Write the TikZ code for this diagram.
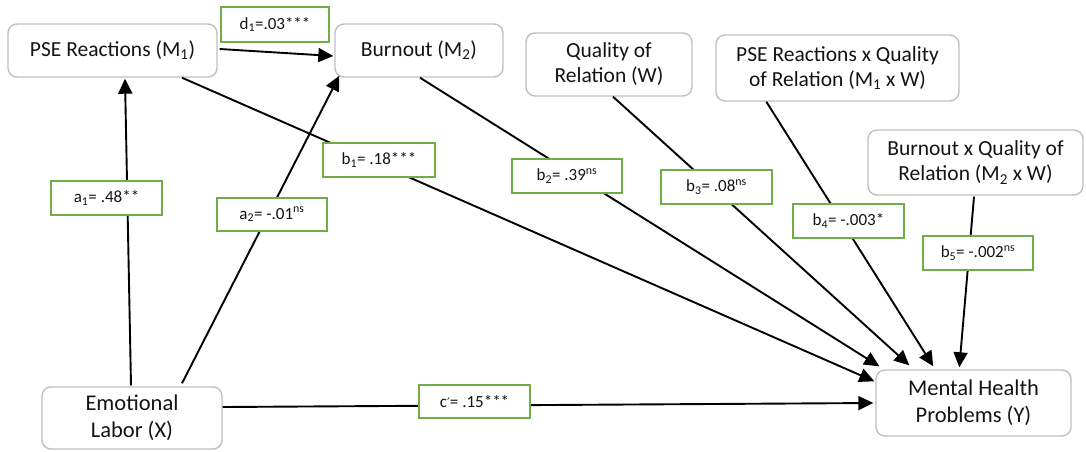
\documentclass[tikz,border=0pt]{standalone}
\usepackage{fontspec}
\setmainfont{Carlito}
\newfontfamily\primefont{DejaVu Sans}
\usetikzlibrary{arrows.meta,calc}
\definecolor{boxgray}{RGB}{191,191,191}
\definecolor{labgreen}{RGB}{112,173,71}
\definecolor{inkdark}{RGB}{20,20,20}
\begin{document}
\begin{tikzpicture}[x=1pt,y=-1pt,
  varbox/.style={draw=boxgray,line width=1.4pt,rounded corners=9pt,fill=white,
    align=center,inner sep=0pt,text=inkdark,
    font=\fontsize{21.5}{25}\selectfont},
  tallbox/.style={varbox,font=\fontsize{22.5}{27}\selectfont},
  coefbox/.style={draw=labgreen,line width=2pt,fill=white,inner sep=0pt,
    text=inkdark,font=\fontsize{17}{19}\selectfont},
  path/.style={line width=1.9pt,-{Triangle[length=15pt,width=14pt]}}]
\useasboundingbox (0,0) rectangle (1086,451);

% variables
\node[varbox,minimum width=209pt,minimum height=53pt] (M1) at (112.5,50.5) {PSE Reactions (M\textsubscript{1})};
\node[varbox,minimum width=168pt,minimum height=53pt] (M2) at (419,50.5) {Burnout (M\textsubscript{2})};
\node[varbox,minimum width=166pt,minimum height=63pt] (W) at (609,64.5) {Quality of\\Relation (W)};
\node[varbox,minimum width=243pt,minimum height=66pt] (M1W) at (837.5,68) {PSE Reactions x Quality\\of Relation (M\textsubscript{1} x W)};
\node[varbox,minimum width=215pt,minimum height=65pt] (M2W) at (975.5,162.5) {Burnout x Quality of\\Relation (M\textsubscript{2} x W)};
\node[tallbox,minimum width=180pt,minimum height=62pt] (X) at (132,418) {Emotional\\Labor (X)};
\node[tallbox,minimum width=195pt,minimum height=66pt] (Y) at (973.5,403) {Mental Health\\Problems (Y)};

% paths
\draw[path] ($(M1.east)+(2,-1.5)$) -- ($(M2.west)+(-1,5.5)$);
\draw[path] ($(X.north)+(-1,-1)$) -- ($(M1.south)+(12.5,1)$);
\draw[path] ($(X.north)+(50,-3)$) -- ($(M2.south west)+(5,-2)$);
\draw[path] ($(M1.south)+(69.5,0)$) -- ($(Y.north west)+(-1,12)$);
\draw[path] ($(M2.south)+(1,0)$) -- ($(Y.north west)+(4,-3)$);
\draw[path] ($(W.south)+(4,0)$) -- ($(Y.north west)+(34,-4)$);
\draw[path] ($(M1W.south west)+(51,0)$) -- ($(Y.north west)+(58,-3)$);
\draw[path] ($(M2W.south)+(-1.5,1)$) -- ($(Y.north west)+(84,-2)$);
\draw[path] ($(X.east)+(0,-11)$) -- ($(Y.west)+(-2,0)$);

% coefficients
\node[coefbox,minimum width=108pt,minimum height=35pt] (d1) at (275,24.5) {d\textsubscript{1}=.03***};
\node[coefbox,minimum width=111pt,minimum height=34pt] (a1) at (106.5,198) {a\textsubscript{1}= .48**};
\node[coefbox,minimum width=110pt,minimum height=33pt] (a2) at (272,214.5) {a\textsubscript{2}= -.01\textsuperscript{ns}};
\node[coefbox,minimum width=112pt,minimum height=34pt] (b1) at (379,160) {b\textsubscript{1}= .18***};
\node[coefbox,minimum width=110pt,minimum height=34pt] (b2) at (567,176) {b\textsubscript{2}= .39\textsuperscript{ns}};
\node[coefbox,minimum width=111pt,minimum height=34pt] (b3) at (716.5,187) {b\textsubscript{3}= .08\textsuperscript{ns}};
\node[coefbox,minimum width=111pt,minimum height=34pt] (b4) at (848.5,221) {b\textsubscript{4}= -.003*};
\node[coefbox,minimum width=110pt,minimum height=34pt] (b5) at (978,253) {b\textsubscript{5}= -.002\textsuperscript{ns}};
\node[coefbox,minimum width=111pt,minimum height=33pt] (cp) at (474.5,401.5) {c{\primefont\fontsize{13}{15}\selectfont ′}= .15***};
\end{tikzpicture}
\end{document}
